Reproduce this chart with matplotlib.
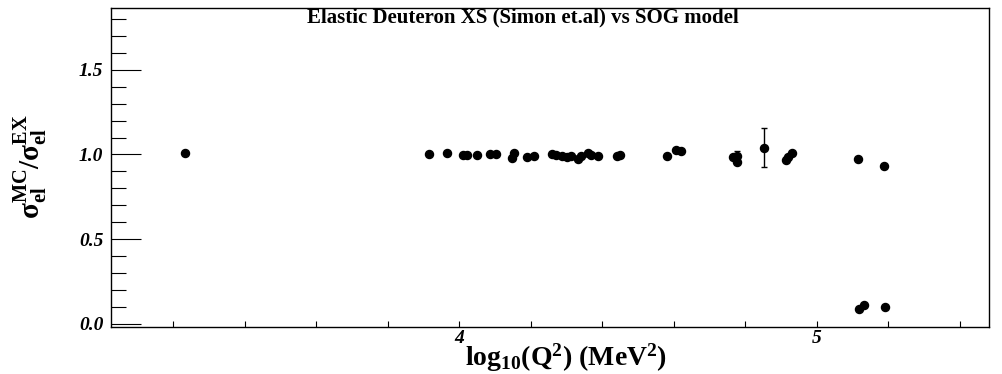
import matplotlib
matplotlib.use("Agg")
import matplotlib.pyplot as plt
from matplotlib.ticker import FixedLocator, FixedFormatter
import numpy as np

plt.rcParams['mathtext.fontset'] = 'custom'
plt.rcParams['mathtext.rm'] = 'Liberation Serif:bold'
plt.rcParams['mathtext.it'] = 'Liberation Serif:italic:bold'
plt.rcParams['mathtext.bf'] = 'Liberation Serif:bold'

# data: log10(Q^2) and ratio sigma_MC / sigma_EX
log_q2 = [3.233, 3.916, 3.965, 4.010, 4.022, 4.050, 4.086, 4.103, 4.153, 4.147,
          4.189, 4.209, 4.259, 4.270, 4.287, 4.301, 4.312, 4.332, 4.340, 4.360,
          4.368, 4.388, 4.441, 4.450, 4.580, 4.606, 4.620, 4.766, 4.777, 4.778,
          4.853, 4.914, 4.920, 4.930, 5.116, 5.189, 5.119, 5.131, 5.191]
ratio = [1.011, 1.003, 1.007, 0.999, 0.999, 0.995, 1.001, 1.001, 1.006, 0.979,
         0.987, 0.991, 1.001, 0.995, 0.993, 0.987, 0.991, 0.973, 0.991, 1.011,
         0.997, 0.991, 0.991, 0.994, 0.993, 1.027, 1.021, 0.985, 0.990, 0.958,
         1.040, 0.968, 0.987, 1.007, 0.972, 0.932, 0.091, 0.115, 0.102]
ratio_err = [0.0] * 28 + [0.031, 0.0, 0.115] + [0.0] * 8

title = "Elastic Deuteron XS (Simon et.al) vs SOG model"
x_tick_vals = [4, 5]
x_tick_labels = ["4", "5"]
y_tick_vals = [0.0, 0.5, 1.0, 1.5]
y_tick_labels = ["0.0", "0.5", "1.0", "1.5"]

W, H = 1002, 374
fig = plt.figure(figsize=(W / 100, H / 100), dpi=100)
left, right, top, bottom = 111, 989, 8, 327
ax = fig.add_axes([left / W, 1 - bottom / H, (right - left) / W, (bottom - top) / H])

ax.errorbar(log_q2, ratio, yerr=ratio_err, fmt='o', color='black', ms=5.8,
            elinewidth=1, capsize=2.2, capthick=1, ecolor='black')

ax.set_xlim(3.026, 5.482)
ax.set_ylim(-0.0177, 1.864)

for s in ax.spines.values():
    s.set_linewidth(1.0)
    s.set_color('black')

ax.xaxis.set_major_locator(FixedLocator(x_tick_vals))
ax.xaxis.set_major_formatter(FixedFormatter(x_tick_labels))
ax.xaxis.set_minor_locator(FixedLocator([3.2, 3.4, 3.6, 3.8, 4.2, 4.4, 4.6, 4.8, 5.2, 5.4]))
ax.yaxis.set_major_locator(FixedLocator(y_tick_vals))
ax.yaxis.set_major_formatter(FixedFormatter(y_tick_labels))
ax.yaxis.set_minor_locator(FixedLocator([0.1, 0.2, 0.3, 0.4, 0.6, 0.7, 0.8, 0.9,
                                         1.1, 1.2, 1.3, 1.4, 1.6, 1.7, 1.8]))

ax.tick_params(axis='x', which='both', direction='in', length=4.5, width=0.8,
               top=False, pad=2.5)
ax.tick_params(axis='y', which='major', direction='in', length=21.6, width=0.8,
               right=False, pad=5.5)
ax.tick_params(axis='y', which='minor', direction='in', length=10.8, width=0.8,
               right=False)

for lab in ax.get_xticklabels() + ax.get_yticklabels():
    lab.set_fontfamily('Liberation Serif')
    lab.set_fontweight('bold')
    lab.set_fontstyle('italic')
    lab.set_fontsize(14)

fig.text(523 / W, 1 - 17 / H, title, ha='center', va='center',
         fontfamily='Liberation Serif', fontweight='bold', fontsize=15)

fig.text(566 / W, 1 - 366 / H, r'$\mathbf{log_{10}(Q^{2})\ (MeV^{2})}$',
         ha='center', va='baseline', fontsize=20)

fig.text(31 / W, 1 - 167 / H, r'$\mathbf{\sigma^{MC}_{el}/\sigma^{EX}_{el}}$',
         ha='center', va='center', rotation=90, fontsize=21)

fig.savefig('out.png', dpi=100)
